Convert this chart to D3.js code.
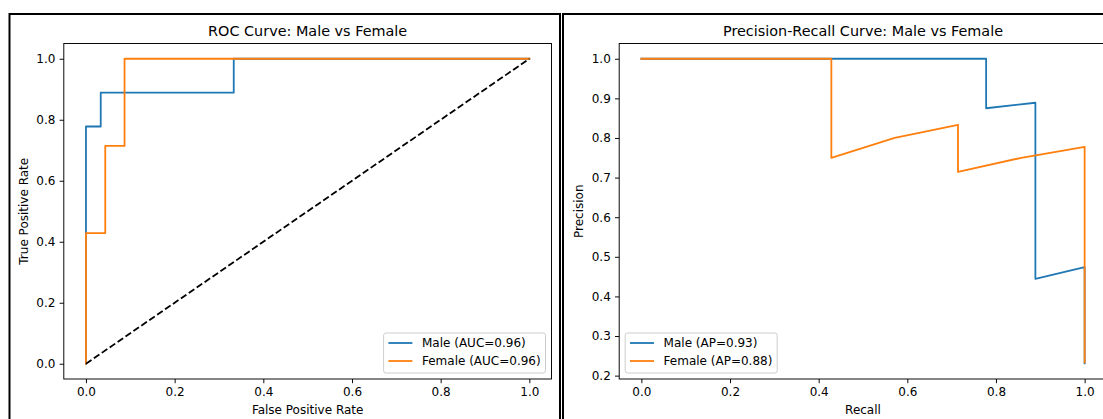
<!DOCTYPE html>
<html>
<head>
<meta charset="utf-8">
<script src="https://cdn.jsdelivr.net/npm/d3@7"></script>
<style>
  body { margin: 0; background: #fff; }
  svg { display: block; font-family: "DejaVu Sans", sans-serif; }
</style>
</head>
<body>
<div id="chart"></div>
<script>
// ROC curve points
var rocMaleFpr = [0, 0, 0.0333, 0.0333, 0.3333, 0.3333, 1.0];
var rocMaleTpr = [0, 0.7778, 0.7778, 0.8889, 0.8889, 1.0, 1.0];
var rocFemaleFpr = [0, 0, 0.0435, 0.0435, 0.0870, 0.0870, 1.0];
var rocFemaleTpr = [0, 0.4286, 0.4286, 0.7143, 0.7143, 1.0, 1.0];

// Precision-recall points
var prMaleRecall = [0, 0.7778, 0.7778, 0.8889, 0.8889, 1.0, 1.0];
var prMalePrecision = [1.0, 1.0, 0.875, 0.8889, 0.4444, 0.4737, 0.2308];
var prFemaleRecall = [0, 0.4286, 0.4286, 0.5714, 0.7143, 0.7143, 0.8571, 1.0, 1.0];
var prFemalePrecision = [1.0, 1.0, 0.75, 0.8, 0.8333, 0.7143, 0.75, 0.7778, 0.2333];

// legend labels and ticks
var rocLabels = ["Male (AUC=0.96)", "Female (AUC=0.96)"];
var prLabels = ["Male (AP=0.93)", "Female (AP=0.88)"];
var xTicks = [0, 0.2, 0.4, 0.6, 0.8, 1.0];
var rocYTicks = [0, 0.2, 0.4, 0.6, 0.8, 1.0];
var prYTicks = [0.2, 0.3, 0.4, 0.5, 0.6, 0.7, 0.8, 0.9, 1.0];

var blue = "#1f77b4", orange = "#ff7f0e";

var svg = d3.select("#chart")
    .append("svg")
    .attr("width", 1103)
    .attr("height", 419);

// the black frames around each subplot (cut off at the bottom / right)
svg.append("rect").attr("x", 9.5).attr("y", 14).attr("width", 550.5).attr("height", 430)
    .attr("fill", "none").attr("stroke", "#000").attr("stroke-width", 2);
svg.append("rect").attr("x", 563).attr("y", 14).attr("width", 560).attr("height", 430)
    .attr("fill", "none").attr("stroke", "#000").attr("stroke-width", 2);

function zip(xs, ys) {
    return xs.map(function (d, i) { return [d, ys[i]]; });
}

function drawPanel(o) {
    var x = d3.scaleLinear().domain(o.xDomain).range([o.left, o.right]);
    var y = d3.scaleLinear().domain(o.yDomain).range([o.bottom, o.top]);
    var g = svg.append("g");

    var line = d3.line()
        .x(function (d) { return x(d[0]); })
        .y(function (d) { return y(d[1]); });

    // curves
    o.series.forEach(function (s) {
        g.append("path")
            .attr("d", line(s.points))
            .attr("fill", "none")
            .attr("stroke", s.color)
            .attr("stroke-width", 1.8)
            .attr("stroke-linejoin", "round")
            .attr("stroke-linecap", "square");
    });

    if (o.diag) {
        g.append("path")
            .attr("d", line([[0, 0], [1, 1]]))
            .attr("fill", "none")
            .attr("stroke", "#000")
            .attr("stroke-width", 1.8)
            .attr("stroke-dasharray", "6.7,2.9");
    }

    // spines
    g.append("rect")
        .attr("x", o.left).attr("y", o.top)
        .attr("width", o.right - o.left).attr("height", o.bottom - o.top)
        .attr("fill", "none").attr("stroke", "#000").attr("stroke-width", 0.96);

    // axes
    var xAxis = g.append("g")
        .attr("transform", "translate(0," + o.bottom + ")")
        .call(d3.axisBottom(x).tickValues(xTicks).tickFormat(d3.format(".1f"))
            .tickSizeInner(4.2).tickSizeOuter(0).tickPadding(4.2));
    var yAxis = g.append("g")
        .attr("transform", "translate(" + o.left + ",0)")
        .call(d3.axisLeft(y).tickValues(o.yTicks).tickFormat(d3.format(".1f"))
            .tickSizeInner(4.2).tickSizeOuter(0).tickPadding(4.2));
    [xAxis, yAxis].forEach(function (a) {
        a.attr("font-family", null).attr("font-size", 12);
        a.select(".domain").remove();
        a.selectAll("line").attr("stroke-width", 0.96);
        a.selectAll("text").attr("fill", "#000");
    });

    // title and labels
    var cx = (o.left + o.right) / 2, cy = (o.top + o.bottom) / 2;
    g.append("text").attr("x", cx).attr("y", 36).attr("text-anchor", "middle")
        .attr("font-size", 14.4).text(o.title);
    g.append("text").attr("x", cx).attr("y", 414).attr("text-anchor", "middle")
        .attr("font-size", 12).text(o.xLabel);
    g.append("text").attr("transform", "translate(" + (o.left - 36) + "," + cy + ") rotate(-90)")
        .attr("text-anchor", "middle").attr("font-size", 12).text(o.yLabel);

    // legend
    var lg = g.append("g");
    var box = lg.append("rect");
    var texts = o.series.map(function (s, i) {
        return lg.append("text").attr("font-size", 12).attr("y", 18 * i + 4.3).text(s.label);
    });
    var tw = d3.max(texts, function (t) { return t.node().getComputedTextLength(); });
    var w = 4.8 + 24 + 9.6 + tw + 4.8, h = 40;
    var lx = o.legendRight ? o.right - 6 - w : o.left + 6;
    var ly = o.bottom - 6 - h;
    lg.attr("transform", "translate(" + lx + "," + (ly + 10) + ")");
    box.attr("x", 0).attr("y", -10).attr("width", w).attr("height", h)
        .attr("rx", 2.4).attr("fill", "#fff").attr("fill-opacity", 0.8)
        .attr("stroke", "#cccccc").attr("stroke-width", 1);
    o.series.forEach(function (s, i) {
        lg.append("line").attr("x1", 4.8).attr("x2", 28.8)
            .attr("y1", 18 * i).attr("y2", 18 * i)
            .attr("stroke", s.color).attr("stroke-width", 1.8);
        texts[i].attr("x", 4.8 + 24 + 9.6);
    });
}

drawPanel({
    left: 63.8, right: 551.5, top: 43.5, bottom: 379,
    xDomain: [-0.05, 1.05], yDomain: [-0.05, 1.05], yTicks: rocYTicks,
    title: "ROC Curve: Male vs Female",
    xLabel: "False Positive Rate", yLabel: "True Positive Rate",
    diag: true, legendRight: true,
    series: [
        { points: zip(rocMaleFpr, rocMaleTpr), color: blue, label: rocLabels[0] },
        { points: zip(rocFemaleFpr, rocFemaleTpr), color: orange, label: rocLabels[1] }
    ]
});

drawPanel({
    left: 619.2, right: 1106.8, top: 43.5, bottom: 379,
    xDomain: [-0.05, 1.05], yDomain: [0.1915, 1.0385], yTicks: prYTicks,
    title: "Precision-Recall Curve: Male vs Female",
    xLabel: "Recall", yLabel: "Precision",
    diag: false, legendRight: false,
    series: [
        { points: zip(prMaleRecall, prMalePrecision), color: blue, label: prLabels[0] },
        { points: zip(prFemaleRecall, prFemalePrecision), color: orange, label: prLabels[1] }
    ]
});
</script>
</body>
</html>
